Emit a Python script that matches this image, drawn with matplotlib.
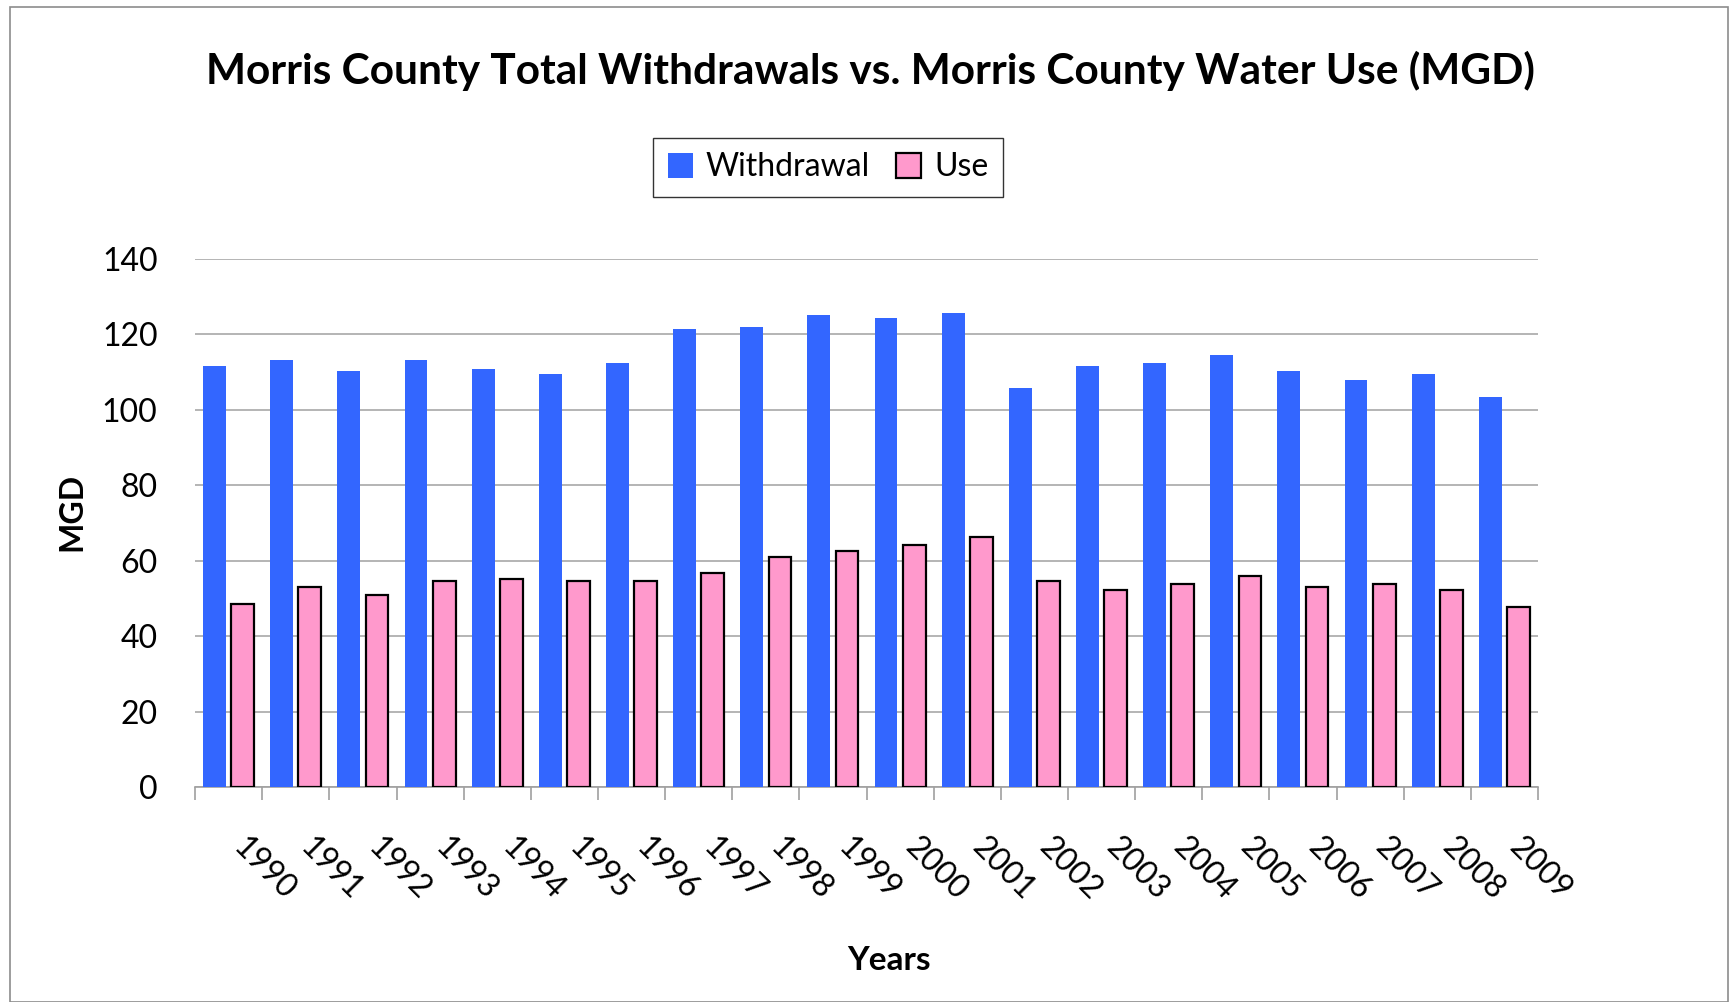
import numpy as np
import matplotlib
matplotlib.use("Agg")
import matplotlib.pyplot as plt
from matplotlib.patches import Rectangle
from matplotlib.transforms import ScaledTranslation

plt.rcParams['font.family'] = ['Lato', 'DejaVu Sans']

# Data (MGD)
years = [str(y) for y in range(1990, 2010)]
withdrawal = [111.6, 113.2, 110.3, 113.2, 110.8, 109.5, 112.4, 121.5, 122.0, 125.2,
              124.4, 125.7, 105.8, 111.6, 112.4, 114.5, 110.3, 107.9, 109.5, 103.3]
use = [48.5, 53.0, 50.8, 54.5, 55.2, 54.5, 54.5, 56.7, 61.1, 62.6,
       64.2, 66.3, 54.5, 52.3, 53.7, 56.0, 53.0, 53.7, 52.3, 47.8]
yticks = [0, 20, 40, 60, 80, 100, 120, 140]

fig = plt.figure(figsize=(17.31, 10.02), dpi=100)
ax = fig.add_axes([0.1127, 0.2146, 0.7758, 0.5269])

# outer chart border
fig.patches.append(Rectangle((10 / 1731, 0), 1718 / 1731, 995 / 1002, transform=fig.transFigure,
                             fill=False, edgecolor='#8c8c8c', linewidth=1.2))

x = np.arange(len(years))
w = 0.34
ax.bar(x - 0.21, withdrawal, w, color='#3366FF', label='Withdrawal', zorder=3)
ax.bar(x + 0.21, use, w, color='#FF99CC', edgecolor='black', linewidth=1.6, label='Use', zorder=3)

ax.set_xlim(-0.5, len(years) - 0.5)
ax.set_ylim(0, 140)
ax.set_yticks(yticks)
ax.set_yticklabels([str(t) for t in yticks], fontsize=23)
ax.tick_params(axis='y', length=0, pad=27)
ax.yaxis.grid(True, color='#a0a0a0', linewidth=1.1, zorder=0)
ax.set_axisbelow(True)

for side in ['left', 'right', 'top']:
    ax.spines[side].set_visible(False)
ax.spines['bottom'].set_color('#a0a0a0')
ax.spines['bottom'].set_linewidth(1.2)

# boundary ticks (major), labels on centers (minor)
ax.set_xticks(np.arange(len(years) + 1) - 0.5)
ax.set_xticklabels([])
ax.tick_params(axis='x', which='major', length=9, width=1.2, color='#a0a0a0', direction='out')
ax.set_xticks(x, minor=True)
ax.set_xticklabels(years, minor=True, fontsize=23, rotation=-45,
                   ha='left', va='top', rotation_mode='anchor')
ax.tick_params(axis='x', which='minor', length=0, pad=0)
offset = ScaledTranslation(0.20, -0.45, fig.dpi_scale_trans)
for lbl in ax.get_xticklabels(minor=True):
    lbl.set_transform(lbl.get_transform() + offset)

fig.text(0.503, 1 - 71 / 1002, 'Morris County Total Withdrawals vs. Morris County Water Use (MGD)',
         ha='center', va='center', fontsize=30.5, fontweight='bold')
fig.text(72 / 1731, 1 - 512 / 1002, 'MGD', rotation=90, ha='center', va='center',
         fontsize=23, fontweight='bold')
fig.text(889 / 1731, 1 - 960 / 1002, 'Years', ha='center', va='center',
         fontsize=24, fontweight='bold')

leg = ax.legend(loc='center', bbox_to_anchor=(828 / 1731, 1 - 167.5 / 1002),
                bbox_transform=fig.transFigure, ncol=2, fontsize=23, frameon=True,
                fancybox=False, edgecolor='black', handlelength=0.8, handleheight=0.8,
                handletextpad=0.4, columnspacing=0.8, borderpad=0.45)
leg.get_frame().set_linewidth(1.0)

fig.savefig('out.png', dpi=100)
